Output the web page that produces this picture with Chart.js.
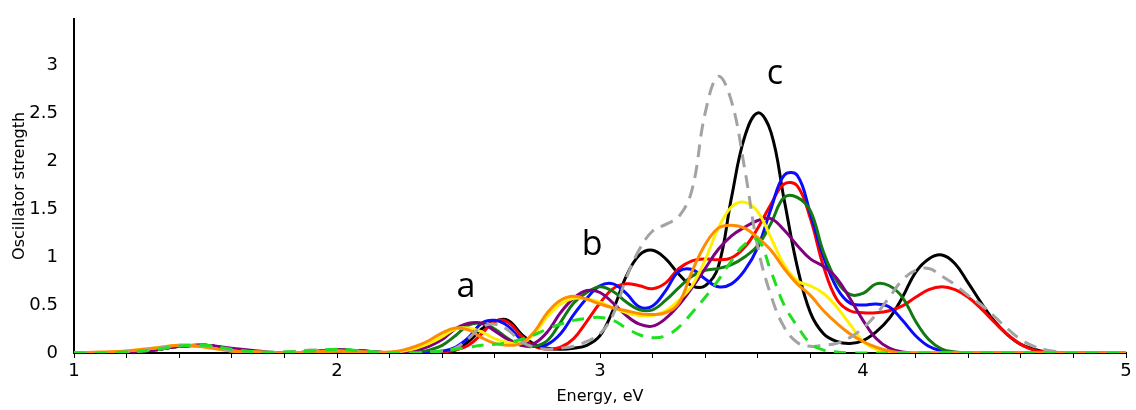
<!DOCTYPE html>
<html>
<head>
<meta charset="utf-8">
<script src="https://cdn.jsdelivr.net/npm/chart.js@4.4.0/dist/chart.umd.min.js"></script>
<style>
  html, body { margin: 0; padding: 0; background: #fff; }
  #wrap { width: 1136px; height: 410px; }
</style>
</head>
<body>
<div id="wrap"><canvas id="myChart" width="1136" height="410"></canvas></div>
<script>
// energy grid (eV), finer where the bands are
const energy = [1.0,1.1,1.2,1.3,1.4,1.5,1.6,1.7,1.8,1.9,2.0,2.1,
  2.2,2.25,2.3,2.35,2.4,2.45,2.5,2.55,2.6,2.65,2.7,2.75,2.8,
  2.85,2.9,2.95,3.0,3.05,3.1,3.15,3.2,3.25,3.3,3.35,3.4,3.45,
  3.5,3.55,3.6,3.65,3.7,3.75,3.8,3.85,3.9,3.95,4.0,4.05,4.1,
  4.15,4.2,4.25,4.3,4.35,4.4,4.45,4.5,4.55,4.6,4.65,4.7,4.75,4.8,
  4.9,5.0];

const black = [0,0,0.01,0.03,0.07,0.07,0.03,0.01,0,0.01,0.02,0.01,
  0,0,0,0,0.01,0.03,0.12,0.25,0.33,0.34,0.2,0.09,0.05,
  0.04,0.05,0.08,0.18,0.45,0.8,1.02,1.07,0.98,0.82,0.7,0.7,0.9,
  1.62,2.25,2.5,2.3,1.6,0.9,0.42,0.2,0.12,0.1,0.13,0.22,0.36,
  0.58,0.84,0.98,1.02,0.93,0.73,0.52,0.33,0.19,0.09,0.04,0.01,0,0,
  0,0];
const grayDash = [0,0,0.01,0.04,0.08,0.07,0.03,0.01,0.01,0.03,0.03,0.02,
  0,0,0,0.01,0.02,0.05,0.15,0.27,0.3,0.24,0.12,0.06,0.04,
  0.05,0.07,0.12,0.2,0.4,0.78,1.08,1.27,1.34,1.42,1.7,2.5,2.88,
  2.62,1.92,1.1,0.6,0.27,0.11,0.07,0.08,0.1,0.16,0.26,0.4,0.58,
  0.76,0.86,0.88,0.8,0.71,0.6,0.5,0.38,0.25,0.14,0.07,0.03,0.01,0,
  0,0];
const limeDash = [0,0,0.01,0.03,0.07,0.08,0.04,0.01,0.01,0.02,0.04,0.02,
  0,0,0,0.01,0.02,0.04,0.06,0.08,0.09,0.11,0.14,0.19,0.25,
  0.3,0.34,0.36,0.37,0.34,0.26,0.19,0.16,0.18,0.27,0.42,0.58,0.76,
  0.96,1.13,1.18,0.85,0.5,0.28,0.1,0.03,0.01,0,0,0,0,
  0,0,0,0,0,0,0,0,0,0,0,0,0,0,
  0,0];
const blue = [0,0,0.01,0.03,0.07,0.08,0.04,0.01,0,0.01,0.03,0.02,
  0,0,0,0.01,0.02,0.06,0.16,0.31,0.34,0.28,0.14,0.07,0.09,
  0.2,0.4,0.57,0.7,0.72,0.62,0.48,0.49,0.65,0.85,0.87,0.77,0.69,
  0.72,0.86,1.1,1.5,1.85,1.85,1.45,1.0,0.68,0.52,0.5,0.51,0.48,
  0.34,0.18,0.07,0.02,0,0,0,0,0,0,0,0,0,0,
  0,0];
const red = [0,0,0.01,0.03,0.07,0.08,0.04,0.01,0,0.01,0.03,0.02,
  0,0,0,0,0.01,0.03,0.08,0.2,0.33,0.32,0.18,0.07,0.04,
  0.06,0.15,0.33,0.52,0.67,0.72,0.7,0.67,0.73,0.88,0.96,0.98,0.97,
  0.99,1.1,1.3,1.55,1.76,1.74,1.4,0.9,0.56,0.44,0.42,0.42,0.44,
  0.49,0.58,0.66,0.69,0.66,0.58,0.46,0.32,0.19,0.09,0.03,0.01,0,0,
  0,0];
const green = [0,0,0.01,0.03,0.07,0.08,0.04,0.01,0,0.01,0.03,0.02,
  0,0,0.01,0.03,0.08,0.18,0.29,0.31,0.25,0.15,0.08,0.07,0.13,
  0.32,0.52,0.63,0.69,0.64,0.53,0.45,0.45,0.55,0.68,0.8,0.86,0.88,
  0.92,1.0,1.12,1.35,1.62,1.62,1.48,1.05,0.75,0.61,0.62,0.72,0.7,
  0.58,0.33,0.14,0.04,0.01,0,0,0,0,0,0,0,0,0,
  0,0];
const purple = [0,0,0.01,0.03,0.07,0.08,0.05,0.02,0,0.01,0.03,0.02,
  0,0.01,0.03,0.07,0.14,0.25,0.31,0.31,0.23,0.14,0.08,0.1,0.22,
  0.42,0.57,0.65,0.63,0.52,0.39,0.3,0.28,0.36,0.5,0.68,0.88,1.08,
  1.22,1.31,1.38,1.4,1.28,1.12,0.98,0.9,0.78,0.57,0.34,0.15,0.05,
  0.01,0,0,0,0,0,0,0,0,0,0,0,0,0,
  0,0];
const yellow = [0,0,0.02,0.05,0.08,0.06,0.02,0.01,0,0.01,0.02,0.01,
  0,0.02,0.05,0.1,0.17,0.25,0.26,0.22,0.15,0.11,0.1,0.2,0.38,
  0.51,0.57,0.56,0.53,0.47,0.42,0.39,0.39,0.44,0.55,0.7,0.97,1.3,
  1.52,1.57,1.47,1.2,0.92,0.75,0.7,0.62,0.48,0.3,0.12,0.04,0.01,
  0,0,0,0,0,0,0,0,0,0,0,0,0,0,
  0,0];
const orange = [0,0.01,0.02,0.05,0.08,0.06,0.02,0.01,0,0.01,0.02,0.01,
  0.01,0.03,0.07,0.13,0.21,0.26,0.24,0.16,0.1,0.08,0.1,0.22,0.42,
  0.55,0.59,0.56,0.51,0.47,0.44,0.41,0.4,0.42,0.52,0.85,1.13,1.3,
  1.33,1.3,1.2,1.07,0.88,0.72,0.6,0.44,0.31,0.2,0.12,0.06,0.02,
  0,0,0,0,0,0,0,0,0,0,0,0,0,0,
  0,0];

// peak labels: text, energy, strength (baseline)
const peakNames = ['a', 'b', 'c'];
const peakE = [2.49, 2.97, 3.665];
const peakY = [0.58, 1.02, 2.8];

function pts(arr) {
  return energy.map(function (e, i) { return { x: e, y: arr[i] }; });
}

function line(arr, color, dash) {
  return {
    data: pts(arr),
    borderColor: color,
    borderWidth: 3,
    borderDash: dash || [],
    pointRadius: 0,
    fill: false,
    tension: 0.4
  };
}

const peakLabels = {
  id: 'peakLabels',
  afterDatasetsDraw(chart) {
    const c = chart.ctx;
    c.save();
    c.font = '34px "Open Sans"';
    c.fillStyle = '#000';
    c.textAlign = 'center';
    c.textBaseline = 'alphabetic';
    for (let i = 0; i < peakNames.length; i++) {
      c.fillText(peakNames[i], chart.scales.x.getPixelForValue(peakE[i]), chart.scales.y.getPixelForValue(peakY[i]));
    }
    c.restore();
  }
};

var ctx = document.getElementById("myChart").getContext('2d');
var myChart = new Chart(ctx, {
  type: 'line',
  data: {
    datasets: [
      line(limeDash, '#1EE01E', [12, 9]),
      line(grayDash, '#A3A3A3', [13, 8]),
      line(orange, '#FF8C00'),
      line(yellow, '#FFF000'),
      line(purple, '#800080'),
      line(green, '#137A13'),
      line(blue, '#0A0AFF'),
      line(red, '#FF0000'),
      line(black, '#000000')
    ]
  },
  options: {
    responsive: false,
    animation: false,
    layout: { padding: { left: 0, right: 10, top: 12, bottom: 0 } },
    plugins: { legend: { display: false }, tooltip: { enabled: false } },
    scales: {
      x: {
        type: 'linear',
        min: 1,
        max: 5,
        afterFit: function (scale) { scale.height = 57; },
        ticks: {
          stepSize: 0.2,
          autoSkip: false,
          maxRotation: 0,
          padding: 3,
          color: '#000',
          font: { family: 'DejaVu Sans', size: 18 },
          callback: function (v) { return Math.abs(v - Math.round(v)) < 1e-6 ? String(Math.round(v)) : ''; }
        },
        grid: { display: true, drawOnChartArea: false, drawTicks: true, tickLength: 5, color: '#000' },
        border: { display: true, color: '#000', width: 2 },
        title: { display: true, text: 'Energy, eV', color: '#000', font: { family: 'DejaVu Sans', size: 16 }, padding: { top: 0, bottom: 4 } }
      },
      y: {
        min: 0,
        max: 3.48,
        afterFit: function (scale) { scale.width = 74; },
        afterBuildTicks: function (scale) {
          scale.ticks = scale.ticks.filter(function (t) { return Math.abs(t.value * 2 - Math.round(t.value * 2)) < 1e-6; });
        },
        ticks: {
          stepSize: 0.5,
          padding: 8,
          color: '#000',
          font: { family: 'DejaVu Sans', size: 18 },
          callback: function (v) { return String(Math.round(v * 10) / 10); }
        },
        grid: { display: false },
        border: { display: true, color: '#000', width: 2 },
        title: { display: true, text: 'Oscillator strength', color: '#000', font: { family: 'DejaVu Sans', size: 16 }, padding: { top: 10, bottom: 0 } }
      }
    }
  },
  plugins: [peakLabels]
});
</script>
</body>
</html>
